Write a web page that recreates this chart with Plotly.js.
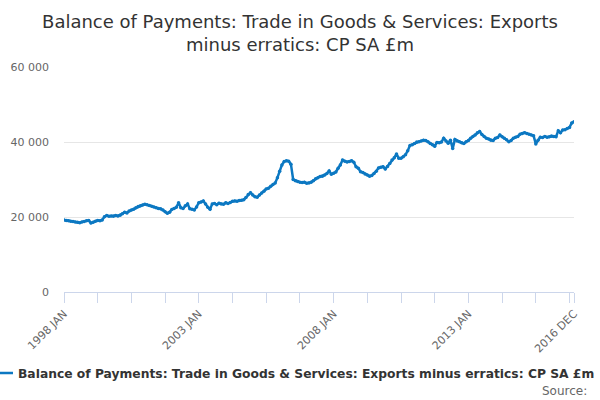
<!DOCTYPE html>
<html>
<head>
<meta charset="utf-8">
<script src="https://cdn.plot.ly/plotly-3.0.1.min.js"></script>
<style>html,body{margin:0;padding:0;background:#fff;}#chart{width:600px;height:400px;}</style>
</head>
<body>
<div id="chart"></div>
<script>
var seriesName = "Balance of Payments: Trade in Goods & Services: Exports minus erratics: CP SA £m";
var years = [1998,1999,2000,2001,2002,2003,2004,2005,2006,2007,2008,2009,2010,2011,2012,2013,2014,2015,2016];
var monthNames = ["JAN","FEB","MAR","APR","MAY","JUN","JUL","AUG","SEP","OCT","NOV","DEC"];

var v1998 = [19200,19100,19000,18900,18800,18700,18600,18500,18700,18800,19000,19100];
var v1999 = [18400,18600,18900,19100,19000,19200,20100,20400,20200,20300,20200,20400];
var v2000 = [20300,20500,20900,21300,21100,21600,21900,22100,22500,22800,23000,23200];
var v2001 = [23400,23300,23100,22900,22700,22500,22300,22200,21900,21400,21000,21300];
var v2002 = [22000,22300,22600,23800,22500,22300,23000,23500,22200,22100,21900,22700];
var v2003 = [23800,24000,24300,23500,22600,22100,23500,23600,23300,23700,23500,23400];
var v2004 = [23800,23600,23900,24200,24300,24200,24400,24500,24600,25200,26000,26500];
var v2005 = [25900,25400,25300,25900,26400,26900,27500,27700,28200,28700,29100,30500];
var v2006 = [32200,33900,34800,35000,34900,34100,30000,29700,29500,29300,29200,29300];
var v2007 = [29000,29100,29300,29700,30200,30500,30800,30900,31200,31600,32300,31400];
var v2008 = [31700,32000,33000,33900,35200,34900,34700,34800,35000,34600,33400,33000];
var v2009 = [32100,31900,31500,31200,30900,31100,31600,32200,33100,33300,33400,32800];
var v2010 = [33500,34300,35200,35800,36800,35700,35700,36100,36600,37700,39100,39300];
var v2011 = [39600,40000,40100,40300,40500,40400,40100,39600,39300,38900,39900,39800];
var v2012 = [40000,41000,40300,39700,40500,38300,40700,40300,40100,39800,39600,40100];
var v2013 = [40400,41000,41500,41900,42500,42800,42000,41500,41000,40800,40500,40400];
var v2014 = [41000,41200,41900,41400,41000,40600,40100,40400,41000,41300,41500,42100];
var v2015 = [42300,42500,42300,42100,41900,41700,39500,40500,41300,41200,41500,41300];
var v2016 = [41400,41600,41500,41400,43000,42500,43200,43300,43600,43900,45100,45400];

var yTickVals = [0,20000,40000,60000];
var yTickText = ["0","20 000","40 000","60 000"];
var xLabelledTicks = ["1998 JAN","2003 JAN","2008 JAN","2013 JAN","2016 DEC"];

var values = [].concat(v1998,v1999,v2000,v2001,v2002,v2003,v2004,v2005,v2006,v2007,v2008,v2009,v2010,v2011,v2012,v2013,v2014,v2015,v2016);
var categories = [];
years.forEach(function(y){ monthNames.forEach(function(m){ categories.push(y + " " + m); }); });

var tickVals = [], tickText = [];
for (var i = 0; i < categories.length; i += 15) { tickVals.push(categories[i]); }
tickVals.push(categories[categories.length-1]);
tickVals.forEach(function(c){ tickText.push(xLabelledTicks.indexOf(c) >= 0 ? c : ""); });

var font = "DejaVu Sans, Verdana, sans-serif";
var trace = {
  x: categories, y: values, type: "scatter", mode: "lines+markers",
  name: seriesName,
  line: {color: "#0c78c2", width: 2.5},
  marker: {color: "#0c78c2", size: 3.5},
  hoverinfo: "x+y"
};
var layout = {
  width: 600, height: 400,
  margin: {l: 64, r: 17, t: 67, b: 108},
  paper_bgcolor: "#fff", plot_bgcolor: "#fff",
  font: {family: font, color: "#333"},
  title: {text: "Balance of Payments: Trade in Goods & Services: Exports<br>minus erratics: CP SA £m",
          font: {family: font, size: 18, color: "#333"}, x: 0.5, xanchor: "center", y: 0.93, yanchor: "top"},
  xaxis: {type: "category", range: [0, categories.length-1], tickmode: "array", tickvals: tickVals, ticktext: tickText,
          tickangle: -45, ticks: "outside", ticklen: 10, tickcolor: "#ccd6eb", showline: true, linecolor: "#ccd6eb",
          showgrid: false, zeroline: false, tickfont: {family: font, size: 11, color: "#666"}},
  yaxis: {range: [0, 60000], tickmode: "array", tickvals: yTickVals, ticktext: yTickText,
          showgrid: true, gridcolor: "#e6e6e6", zeroline: false, showline: false, ticks: "",
          ticklabelstandoff: 14, tickfont: {family: font, size: 11, color: "#666"}},
  showlegend: true,
  legend: {orientation: "h", x: 1.027, xanchor: "right", y: -0.36, yanchor: "middle", itemwidth: 30,
           font: {family: font, size: 12.3, color: "#333", weight: "bold"}},
  annotations: [{text: "Source:", xref: "paper", yref: "paper", x: 1.029, xanchor: "right", y: -0.44, yanchor: "middle",
                 showarrow: false, font: {family: font, size: 12, color: "#666"}}]
};
Plotly.newPlot("chart", [trace], layout, {displayModeBar: false, staticPlot: true});
</script>
</body>
</html>
